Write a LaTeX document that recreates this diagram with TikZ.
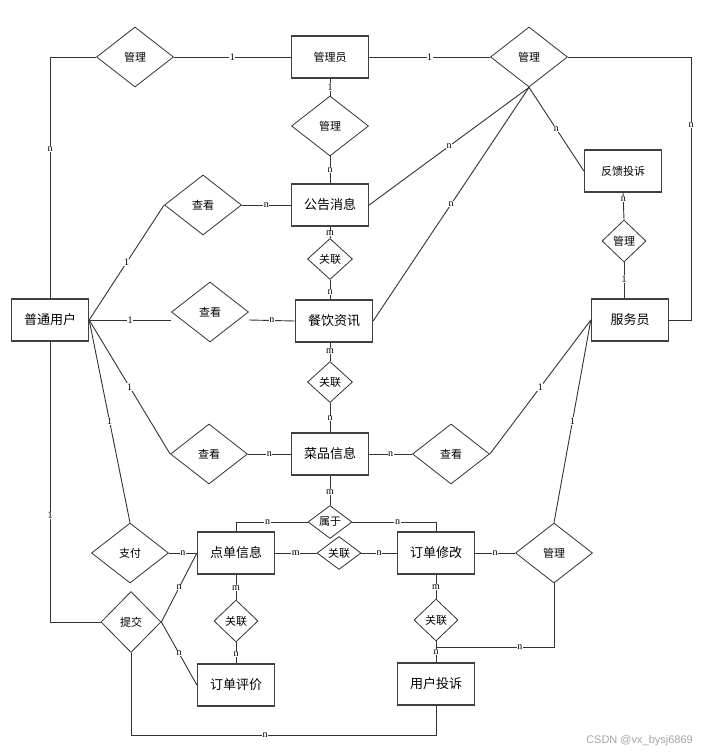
\documentclass[tikz,border=0pt]{standalone}
\usepackage{fontspec}
\setmainfont{Liberation Serif}
\newfontfamily\cjk{Noto Sans CJK SC}
\newfontfamily\wmfont{Liberation Sans}
\usetikzlibrary{shapes.geometric}
\begin{document}
\begin{tikzpicture}[x=1pt,y=-1pt,
  ent/.style={draw=black!75, line width=1.3pt, minimum width=77pt, minimum height=42pt, inner sep=0pt, font=\cjk\fontsize{13}{13}\selectfont},
  sent/.style={ent, font=\cjk\fontsize{11}{11}\selectfont},
  rel/.style 2 args={diamond, draw=black!80, line width=0.8pt, inner sep=0pt, aspect=1, minimum width=#1, minimum height=#2, font=\cjk\fontsize{11}{11}\selectfont},
  con/.style={draw=black!80, line width=0.9pt},
  lab/.style={fill=white, inner sep=0.6pt, font=\fontsize{10}{10}\selectfont}
]
\useasboundingbox (0,0) rectangle (706,754);
\fill[white] (0,0) rectangle (706,754);

% entities
\node[sent] (gly) at (330,57) {管理员};
\node[ent] (gg) at (330,205) {公告消息};
\node[ent] (cy) at (334,321) {餐饮资讯};
\node[ent] (cp) at (330,454) {菜品信息};
\node[ent] (u) at (50,320) {普通用户};
\node[ent] (fwy) at (630,320) {服务员};
\node[sent] (fk) at (623,171) {反馈投诉};
\node[ent] (dd) at (236,553) {点单信息};
\node[ent] (xg) at (436,553) {订单修改};
\node[ent] (pj) at (236,685) {订单评价};
\node[ent] (yt) at (436,684) {用户投诉};

% relations
\node[rel={77pt}{60pt}] (mg1) at (135,57) {管理};
\node[rel={77pt}{60pt}] (mg2) at (330,126) {管理};
\node[rel={77pt}{60pt}] (mg3) at (529,57) {管理};
\node[rel={77pt}{60pt}] (ck1) at (203,205) {查看};
\node[rel={77pt}{60pt}] (ck2) at (210,312) {查看};
\node[rel={77pt}{60pt}] (ck3) at (209,454) {查看};
\node[rel={77pt}{60pt}] (ck4) at (451,454) {查看};
\node[rel={45pt}{41pt}] (gl1) at (330,259) {关联};
\node[rel={45pt}{41pt}] (gl2) at (330,382) {关联};
\node[rel={44pt}{42pt}] (mg4) at (624,241) {管理};
\node[rel={44pt}{33pt}] (sy) at (330,522) {属于};
\node[rel={44pt}{33pt}] (gl3) at (339,553) {关联};
\node[rel={77pt}{60pt}] (zf) at (130,553) {支付};
\node[rel={60pt}{61pt}] (tj) at (131,622) {提交};
\node[rel={44pt}{42pt}] (gl4) at (236,621) {关联};
\node[rel={44pt}{42pt}] (gl5) at (436,620) {关联};
\node[rel={77pt}{60pt}] (mg5) at (554,553) {管理};

% helper coordinates
\coordinate (r1) at (691,320);
\coordinate (c38) at (436,647);
\coordinate (b41) at (131,735);

% connectors
\draw[con] (u.north) |- node[lab,pos=0.31]{n} (mg1.west);
\draw[con] (mg1.east) -- node[lab]{1} (gly.west);
\draw[con] (gly.east) -- node[lab]{1} (mg3.west);
\draw[con] (mg3.east) -| node[lab,pos=0.63]{n} (r1) -- (fwy.east);
\draw[con] (gly.south) -- node[lab]{1} (mg2.north);
\draw[con] (mg2.south) -- node[lab]{n} (gg.north);
\draw[con] (mg3.south) -- node[lab]{n} (gg.east);
\draw[con] (mg3.south) -- node[lab]{n} (cy.east);
\draw[con] (mg3.south) -- node[lab]{n} (fk.west);
\draw[con] (fk.south) -- node[lab,pos=0.25]{n} (mg4.north);
\draw[con] (mg4.south) -- node[lab,pos=0.46]{1} (mg4.south |- fwy.north);
\draw[con] (u.east) -- node[lab]{1} (ck1.west);
\draw[con] (ck1.east) -- node[lab]{n} (gg.west);
\draw[con] (u.east) -- node[lab]{1} (ck2.west |- u.east);
\draw[con] (ck2.east |- u.east) -- node[lab]{n} (cy.west);
\draw[con] (u.east) -- node[lab]{1} (ck3.west);
\draw[con] (ck3.east) -- node[lab]{n} (cp.west);
\draw[con] (u.east) -- node[lab]{1} (zf.north);
\draw[con] (u.south) |- node[lab,pos=0.31]{1} (tj.west);
\draw[con] (gg.south) -- node[lab,pos=0.6]{m} (gl1.north);
\draw[con] (gl1.south) -- node[lab,pos=0.62]{n} (gl1.south |- cy.north);
\draw[con] (gl2.north |- cy.south) -- node[lab,pos=0.45]{m} (gl2.north);
\draw[con] (gl2.south) -- node[lab,pos=0.53]{n} (cp.north);
\draw[con] (cp.east) -- node[lab]{n} (ck4.west);
\draw[con] (ck4.east) -- node[lab]{1} (fwy.west);
\draw[con] (fwy.west) -- node[lab]{1} (mg5.north);
\draw[con] (cp.south) -- node[lab,pos=0.55]{m} (sy.north);
\draw[con] (sy.west) -| node[lab,pos=0.28]{n} (dd.north);
\draw[con] (sy.east) -| node[lab,pos=0.27]{n} (xg.north);
\draw[con] (zf.east) -- node[lab]{n} (dd.west);
\draw[con] (dd.east) -- node[lab]{m} (gl3.west);
\draw[con] (gl3.east) -- node[lab]{n} (xg.west);
\draw[con] (xg.east) -- node[lab]{n} (mg5.west);
\draw[con] (dd.south) -- node[lab,pos=0.54]{m} (gl4.north);
\draw[con] (gl4.south) -- node[lab,pos=0.55]{n} (pj.north);
\draw[con] (xg.south) -- node[lab,pos=0.52]{m} (gl5.north);
\draw[con] (gl5.south) -- node[lab,pos=0.5]{n} (yt.north);
\draw[con] (mg5.south) |- node[lab,pos=0.645]{n} (c38);
\draw[con] (tj.east) -- node[lab]{n} (dd.west);
\draw[con] (tj.east) -- node[lab]{n} (pj.west);
\draw[con] (tj.south) -- (b41) -| node[lab,pos=0.22]{n} (yt.south);

% watermark
\node[anchor=east, text=black!35, font=\wmfont\fontsize{11}{11}\selectfont, inner sep=0pt] (wm) at (693,741) {CSDN @vx\_bysj6869};
\end{tikzpicture}
\end{document}
